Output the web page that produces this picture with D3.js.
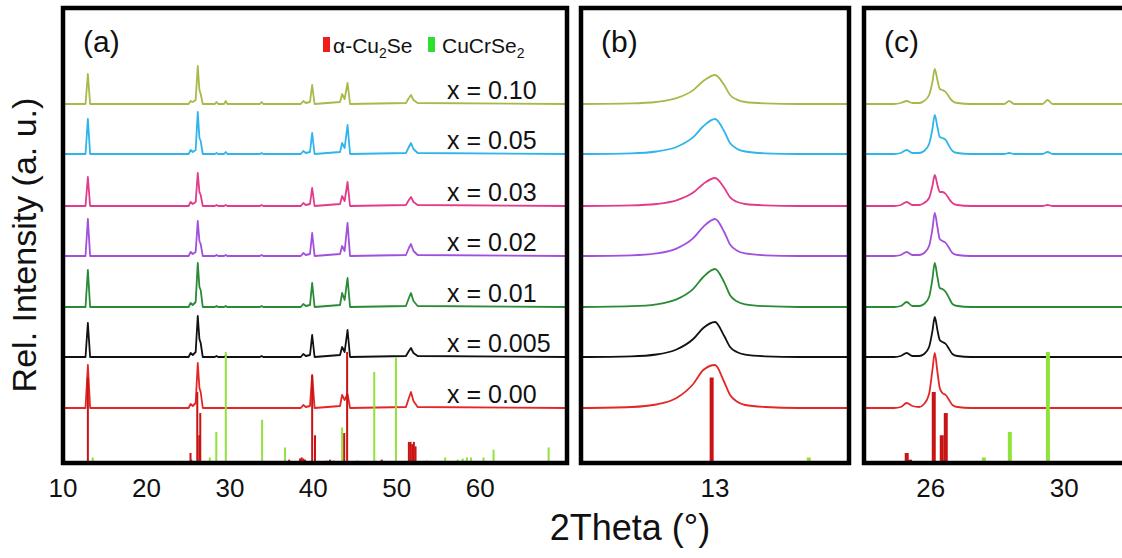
<!DOCTYPE html>
<html>
<head>
<meta charset="utf-8">
<script src="https://cdn.jsdelivr.net/npm/d3@7"></script>
<style>
  body { margin: 0; background: #fff; }
  text { font-family: "Liberation Sans", Arial, sans-serif; fill: #111; }
</style>
</head>
<body>
<div id="chart"></div>
<script>
// samples, bottom to top
const samples = ['0.00', '0.005', '0.01', '0.02', '0.03', '0.05', '0.10']
const sampleColors = ['#e32626', '#111111', '#2a8a35', '#a050dc', '#e23b8c', '#2fb5ea', '#aab84a']
const offsets = [55, 106, 156, 207, 257, 309, 359]

// panel (a): full scan
const thetaA = [10, 12.7, 12.98, 13.25,
  25.05, 25.3, 25.55, 25.9, 26.15, 26.35, 26.5, 26.75,
  28.2, 28.4, 28.6, 29.3, 29.5, 29.7, 33.6, 33.8, 34.0,
  38.5, 38.8, 39.1, 39.6, 39.86, 40.15,
  43.2, 43.45, 43.75, 44.1, 44.4,
  51.1, 51.45, 51.7, 52.0, 52.5, 70.4]
const intensA = [
  [0, 0, 43, 0, 0, 4, 2, 5, 45, 20, 16, 0, 0, 0, 0, 0, 0, 0, 0, 0, 0, 0, 3, 1, 2, 33, 0, 2, 13, 8, 14, 0, 1, 10, 16, 7, 1, 0],
  [0, 0, 34, 0, 0, 4, 2, 5, 41, 18, 14, 0, 0, 1, 0, 0, 1, 0, 0, 1, 0, 0, 3, 1, 2, 22, 0, 2, 10, 5, 27, 0, 1, 6, 9, 4, 1, 0],
  [0, 0, 37, 0, 0, 4, 2, 5, 44, 20, 17, 0, 0, 1, 0, 0, 1, 0, 0, 1, 0, 0, 3, 1, 2, 24, 0, 2, 14, 7, 29, 0, 1, 9, 14, 6, 1, 0],
  [0, 0, 37, 0, 0, 4, 2, 4, 35, 15, 12, 0, 0, 1, 0, 0, 1, 0, 0, 1, 0, 0, 3, 1, 2, 23, 0, 2, 10, 5, 33, 0, 1, 8, 12, 5, 1, 0],
  [0, 0, 29, 0, 0, 4, 2, 4, 33, 14, 11, 0, 0, 1, 0, 0, 1, 0, 0, 1, 0, 0, 3, 1, 2, 18, 0, 2, 10, 5, 24, 0, 1, 6, 9, 4, 1, 0],
  [0, 0, 35, 0, 0, 4, 2, 4, 42, 16, 13, 0, 0, 1, 0, 0, 2, 0, 0, 1, 0, 0, 3, 1, 2, 21, 0, 2, 11, 6, 29, 0, 1, 7, 11, 5, 1, 0],
  [0, 0, 30, 0, 0, 3, 2, 4, 38, 14, 10, 0, 0, 2, 0, 0, 3, 0, 0, 2, 0, 0, 3, 1, 2, 19, 0, 2, 10, 5, 21, 0, 1, 6, 9, 4, 1, 0]
]

// panel (b): zoom around 13 deg
const thetaB = [12.2, 12.5, 12.65, 12.77, 12.87, 12.93, 13.0, 13.055, 13.09, 13.13, 13.18, 13.3, 13.5, 13.82]
const intensB = [
  [0, 1, 3.5, 10, 24, 38, 43, 26, 13, 6.5, 3, 1, 0, 0],
  [0, 0.7, 2.5, 7.5, 18, 29, 35, 21, 10, 5, 2.4, 0.7, 0, 0],
  [0, 0.8, 2.7, 7.6, 18.2, 30, 38, 24.7, 11.8, 5.7, 2.7, 0.8, 0, 0],
  [0, 0.7, 2.6, 7.4, 17.8, 29.2, 37, 24, 11.5, 5.6, 2.6, 0.7, 0, 0],
  [0, 0.6, 2, 5.6, 13.4, 22.1, 28, 18.2, 8.7, 4.2, 2, 0.6, 0, 0],
  [0, 0.7, 2.5, 7, 16.8, 27.7, 35, 22.8, 10.9, 5.3, 2.5, 0.7, 0, 0],
  [0, 0.6, 2, 5.8, 13.9, 22.9, 29, 18.9, 9, 4.4, 2, 0.6, 0, 0]
]

// panel (c): zoom around 26 deg
const thetaC = [24, 24.9, 25.1, 25.28, 25.45, 25.65, 25.8, 25.95, 26.05, 26.12, 26.2, 26.27, 26.35,
  26.45, 26.55, 26.65, 26.8, 27.2, 28.2, 28.35, 28.5, 29.35, 29.5, 29.65, 32]
const intensC = [
  [0, 0, 1, 5, 2, 1, 4, 14, 38, 55, 36, 20, 15, 13, 8, 3, 1, 0, 0, 0, 0, 0, 0, 0, 0],
  [0, 0, 1, 4, 1, 1, 3, 10, 26, 40, 27, 17, 15, 13, 8, 3, 1, 0, 0, 0, 0, 0, 0, 0, 0],
  [0, 0, 1, 5, 1, 1, 3, 10, 28, 44, 30, 19, 18, 15, 9, 3, 1, 0, 0, 0, 0, 0, 0, 0, 0],
  [0, 0, 1, 4, 1, 1, 3, 10, 27, 43, 29, 17, 15, 13, 8, 3, 1, 0, 0, 0, 0, 0, 0, 0, 0],
  [0, 0, 1, 4, 1, 1, 3, 8, 20, 31, 21, 14, 14, 12, 7, 3, 1, 0, 0, 0, 0, 0, 1, 0, 0],
  [0, 0, 1, 4, 1, 1, 3, 10, 25, 39, 27, 17, 16, 14, 8, 3, 1, 0, 0, 1, 0, 0, 2, 0, 0],
  [0, 0, 1, 3, 1, 1, 3, 9, 22, 35, 24, 15, 14, 12, 7, 3, 1, 0, 0, 3, 0, 0, 4, 0, 0]
]

// reference patterns [2theta, rel. intensity %]
const refCu2Se = [[12.98, 77], [25.28, 9], [25.38, 3], [26.09, 64], [26.33, 25], [26.45, 45], [37.1, 3],
  [38.4, 4], [38.6, 5], [38.8, 4], [39.0, 3], [39.86, 79], [40.2, 25], [41.6, 2], [42.0, 3], [42.4, 2],
  [43.7, 27], [44.05, 100], [45.3, 2], [48.2, 3], [51.45, 19], [51.65, 19], [51.85, 17], [52.05, 19],
  [52.25, 15], [53.6, 2]]
const refCuCrSe2 = [[13.56, 5], [27.59, 5], [28.37, 28], [29.51, 100], [33.86, 39], [36.6, 14], [43.45, 32],
  [47.3, 82], [49.9, 95], [55.8, 5], [57.3, 3], [57.9, 4], [58.4, 5], [58.9, 5], [60.4, 5], [61.6, 12], [68.2, 14]]

const ticksA = [10, 20, 30, 40, 50, 60]
const ticksB = [13]
const ticksC = [26, 30]

const width = 1122, height = 558
const plotTop = 8, plotBottom = 463

const svg = d3.select('#chart').append('svg')
  .attr('width', width)
  .attr('height', height)

const y = d3.scaleLinear().domain([0, 455]).range([plotBottom, plotTop])
const yRef = d3.scaleLinear().domain([0, 100]).range([plotBottom, 352])

const panels = [
  {id: 'a', label: '(a)', x: d3.scaleLinear().domain([10, 70.4]).range([63, 567]), theta: thetaA, intens: intensA, ticks: ticksA, barW: 2, curve: d3.curveLinear},
  {id: 'b', label: '(b)', x: d3.scaleLinear().domain([12.2, 13.8]).range([581, 849]), theta: thetaB, intens: intensB, ticks: ticksB, barW: 4, curve: d3.curveMonotoneX},
  {id: 'c', label: '(c)', x: d3.scaleLinear().domain([24, 32]).range([864, 1131]), theta: thetaC, intens: intensC, ticks: ticksC, barW: 4, curve: d3.curveMonotoneX},
]

const defs = svg.append('defs')

panels.forEach(p => {
  const [x0, x1] = p.x.range()
  defs.append('clipPath').attr('id', `clip-${p.id}`)
    .append('rect').attr('x', x0).attr('y', plotTop).attr('width', x1 - x0).attr('height', plotBottom - plotTop)

  const g = svg.append('g').attr('clip-path', `url(#clip-${p.id})`)

  // traces
  samples.forEach((s, si) => {
    const line = d3.line()
      .x((d, i) => p.x(p.theta[i]))
      .y(d => y(offsets[si] + d))
      .curve(p.curve)
    g.append('path')
      .datum(p.intens[si])
      .attr('d', line)
      .attr('fill', 'none')
      .attr('stroke', sampleColors[si])
      .attr('stroke-width', 1.8)
      .attr('stroke-linejoin', 'round')
  })

  // reference bars
  const drawBars = (data, color) => {
    g.append('g').selectAll('rect')
      .data(data)
      .enter().append('rect')
      .attr('x', d => p.x(d[0]) - p.barW / 2)
      .attr('width', p.barW)
      .attr('y', d => yRef(d[1]))
      .attr('height', d => yRef(0) - yRef(d[1]))
      .attr('fill', color)
  }
  drawBars(refCuCrSe2, '#8fe33a')
  drawBars(refCu2Se, '#c81414')

  // frame
  svg.append('rect')
    .attr('x', x0).attr('y', plotTop)
    .attr('width', x1 - x0).attr('height', plotBottom - plotTop)
    .attr('fill', 'none').attr('stroke', '#000').attr('stroke-width', 4.5)

  // tick labels
  svg.append('g').selectAll('text')
    .data(p.ticks)
    .enter().append('text')
    .attr('x', d => p.x(d))
    .attr('y', 497)
    .attr('text-anchor', 'middle')
    .style('font-size', '26px')
    .text(d => d)

  svg.append('text')
    .attr('x', x0 + 20).attr('y', 52)
    .style('font-size', '30px')
    .text(p.label)
})

// sample labels in panel (a)
svg.append('g').selectAll('text')
  .data(samples)
  .enter().append('text')
  .attr('x', 447)
  .attr('y', (d, i) => y(offsets[i]) - 5)
  .style('font-size', '25px')
  .text(d => `x = ${d}`)

// legend
const legend = svg.append('g')
legend.append('rect').attr('x', 323).attr('y', 37).attr('width', 7).attr('height', 15).attr('fill', '#ee1c1c')
const t1 = legend.append('text').attr('x', 333).attr('y', 53).style('font-size', '21px')
t1.append('tspan').text('α-Cu')
t1.append('tspan').attr('dy', 5).style('font-size', '14px').text('2')
t1.append('tspan').attr('dy', -5).text('Se')
legend.append('rect').attr('x', 428).attr('y', 37).attr('width', 7).attr('height', 15).attr('fill', '#2ee02e')
const t2 = legend.append('text').attr('x', 442).attr('y', 53).style('font-size', '21px')
t2.append('tspan').text('CuCrSe')
t2.append('tspan').attr('dy', 5).style('font-size', '14px').text('2')

// axis titles
svg.append('text')
  .attr('x', 630).attr('y', 540)
  .attr('text-anchor', 'middle')
  .style('font-size', '36px')
  .text('2Theta (°)')

svg.append('text')
  .attr('transform', 'translate(36,245) rotate(-90)')
  .attr('text-anchor', 'middle')
  .style('font-size', '34px')
  .text('Rel. Intensity (a. u.)')
</script>
</body>
</html>
